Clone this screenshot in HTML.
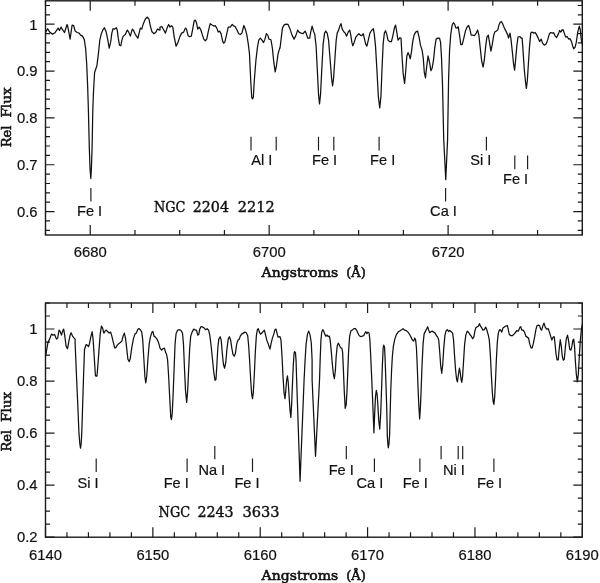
<!DOCTYPE html>
<html><head><meta charset="utf-8"><title>Spectra</title>
<style>html,body{margin:0;padding:0;background:#fff;overflow:hidden}svg{display:block}.s{font-family:"Liberation Sans",sans-serif;font-size:14.8px;fill:#111;stroke:#111;stroke-width:.2px}.l{font-size:14.6px}.r{font-family:"DejaVu Serif","Liberation Serif",serif;fill:#111}</style></head><body>
<svg width="600" height="583" viewBox="0 0 600 583">
<rect width="600" height="583" fill="#fff"/>
<path d="M45.5 235v-5M45.5 0.8v5M90.23 235v-10M90.23 0.8v10M134.97 235v-5M134.97 0.8v5M179.7 235v-5M179.7 0.8v5M224.43 235v-5M224.43 0.8v5M269.17 235v-10M269.17 0.8v10M313.9 235v-5M313.9 0.8v5M358.63 235v-5M358.63 0.8v5M403.37 235v-5M403.37 0.8v5M448.1 235v-10M448.1 0.8v10M492.83 235v-5M492.83 0.8v5M537.57 235v-5M537.57 0.8v5M582.3 235v-5M582.3 0.8v5M45.5 230.32h4.5M582.3 230.32h-4.5M45.5 220.95h4.5M582.3 220.95h-4.5M45.5 211.58h9M582.3 211.58h-9M45.5 202.21h4.5M582.3 202.21h-4.5M45.5 192.84h4.5M582.3 192.84h-4.5M45.5 183.48h4.5M582.3 183.48h-4.5M45.5 174.11h4.5M582.3 174.11h-4.5M45.5 164.74h9M582.3 164.74h-9M45.5 155.37h4.5M582.3 155.37h-4.5M45.5 146h4.5M582.3 146h-4.5M45.5 136.64h4.5M582.3 136.64h-4.5M45.5 127.27h4.5M582.3 127.27h-4.5M45.5 117.9h9M582.3 117.9h-9M45.5 108.53h4.5M582.3 108.53h-4.5M45.5 99.16h4.5M582.3 99.16h-4.5M45.5 89.8h4.5M582.3 89.8h-4.5M45.5 80.43h4.5M582.3 80.43h-4.5M45.5 71.06h9M582.3 71.06h-9M45.5 61.69h4.5M582.3 61.69h-4.5M45.5 52.32h4.5M582.3 52.32h-4.5M45.5 42.96h4.5M582.3 42.96h-4.5M45.5 33.59h4.5M582.3 33.59h-4.5M45.5 24.22h9M582.3 24.22h-9M45.5 14.85h4.5M582.3 14.85h-4.5M45.5 5.48h4.5M582.3 5.48h-4.5" stroke="#1a1a1a" stroke-width="1.2" fill="none"/>
<rect x="45.5" y="0.8" width="536.8" height="234.2" fill="none" stroke="#1a1a1a" stroke-width="1.4"/>
<text class="s" x="37.6" y="29.52" text-anchor="end">1</text>
<text class="s" x="37.6" y="76.36" text-anchor="end">0.9</text>
<text class="s" x="37.6" y="123.2" text-anchor="end">0.8</text>
<text class="s" x="37.6" y="170.04" text-anchor="end">0.7</text>
<text class="s" x="37.6" y="216.88" text-anchor="end">0.6</text>
<text class="s" x="90.23" y="257.4" text-anchor="middle">6680</text>
<text class="s" x="269.17" y="257.4" text-anchor="middle">6700</text>
<text class="s" x="448.1" y="257.4" text-anchor="middle">6720</text>
<path d="M45.5 537.2v-10M45.5 303v10M66.97 537.2v-5M66.97 303v5M88.44 537.2v-5M88.44 303v5M109.92 537.2v-5M109.92 303v5M131.39 537.2v-5M131.39 303v5M152.86 537.2v-10M152.86 303v10M174.33 537.2v-5M174.33 303v5M195.8 537.2v-5M195.8 303v5M217.28 537.2v-5M217.28 303v5M238.75 537.2v-5M238.75 303v5M260.22 537.2v-10M260.22 303v10M281.69 537.2v-5M281.69 303v5M303.16 537.2v-5M303.16 303v5M324.64 537.2v-5M324.64 303v5M346.11 537.2v-5M346.11 303v5M367.58 537.2v-10M367.58 303v10M389.05 537.2v-5M389.05 303v5M410.52 537.2v-5M410.52 303v5M432 537.2v-5M432 303v5M453.47 537.2v-5M453.47 303v5M474.94 537.2v-10M474.94 303v10M496.41 537.2v-5M496.41 303v5M517.88 537.2v-5M517.88 303v5M539.36 537.2v-5M539.36 303v5M560.83 537.2v-5M560.83 303v5M582.3 537.2v-10M582.3 303v10M45.5 537.2h9M582.3 537.2h-9M45.5 524.19h4.5M582.3 524.19h-4.5M45.5 511.18h4.5M582.3 511.18h-4.5M45.5 498.17h4.5M582.3 498.17h-4.5M45.5 485.16h9M582.3 485.16h-9M45.5 472.14h4.5M582.3 472.14h-4.5M45.5 459.13h4.5M582.3 459.13h-4.5M45.5 446.12h4.5M582.3 446.12h-4.5M45.5 433.11h9M582.3 433.11h-9M45.5 420.1h4.5M582.3 420.1h-4.5M45.5 407.09h4.5M582.3 407.09h-4.5M45.5 394.08h4.5M582.3 394.08h-4.5M45.5 381.07h9M582.3 381.07h-9M45.5 368.06h4.5M582.3 368.06h-4.5M45.5 355.04h4.5M582.3 355.04h-4.5M45.5 342.03h4.5M582.3 342.03h-4.5M45.5 329.02h9M582.3 329.02h-9M45.5 316.01h4.5M582.3 316.01h-4.5M45.5 303h4.5M582.3 303h-4.5" stroke="#1a1a1a" stroke-width="1.2" fill="none"/>
<rect x="45.5" y="303" width="536.8" height="234.2" fill="none" stroke="#1a1a1a" stroke-width="1.4"/>
<text class="s" x="37.6" y="334.32" text-anchor="end">1</text>
<text class="s" x="37.6" y="386.37" text-anchor="end">0.8</text>
<text class="s" x="37.6" y="438.41" text-anchor="end">0.6</text>
<text class="s" x="37.6" y="490.46" text-anchor="end">0.4</text>
<text class="s" x="37.6" y="541.5" text-anchor="end">0.2</text>
<text class="s" x="45.5" y="559.5" text-anchor="middle">6140</text>
<text class="s" x="152.86" y="559.5" text-anchor="middle">6150</text>
<text class="s" x="260.22" y="559.5" text-anchor="middle">6160</text>
<text class="s" x="367.58" y="559.5" text-anchor="middle">6170</text>
<text class="s" x="474.94" y="559.5" text-anchor="middle">6180</text>
<text class="s" x="582.3" y="559.5" text-anchor="middle">6190</text>
<polyline points="45.62,32.11 47.63,28.7 49.63,32.11 52.44,34.12 55.05,32.71 57.06,29.7 58.06,28.1 59.47,30.5 61.07,27.09 62.48,29.7 64.48,32.51 67.09,24.48 68.1,28.1 70.1,39.13 72.11,25.09 73.71,25.69 75.12,31.11 77.13,32.51 79.13,33.11 80.54,35.12 82.54,36.12 84.3,39.6 85.7,49.2 86.7,64.3 87.6,84.9 88.4,110 89.3,147.5 90,168 90.8,178.5 91.4,168 92.1,147.5 92.8,110 93.5,91.7 94.6,72.5 96.9,65.7 98.3,54.7 99.8,40.14 101.21,34.12 102.81,30.1 104.42,27.69 106.23,32.11 107.83,40.14 109.24,48.16 110.64,42.14 111.84,33.11 113.05,28.7 114.65,29.1 116.26,27.69 117.26,30.1 118.27,38.13 119.47,45.15 120.87,45.76 121.88,40.14 123.28,36.12 125.29,34.52 127.3,30.1 128.7,32.11 130.31,36.12 132.31,29.1 133.32,30.1 135.32,34.52 137.93,38.13 139.34,32.11 140.34,28.1 141.75,29.1 143.35,23.68 145.36,19.06 147.37,17.06 148.97,19.06 150.38,26.09 151.98,31.71 153.99,33.71 155.99,32.11 157.4,29.1 160.01,30.1 160,27.09 162.01,26.69 163.61,29.7 165.42,33.11 167.02,28.1 168.63,24.48 170.03,27.09 171.44,25.69 172.84,27.09 174.05,36.12 176.05,46.16 178.06,42.14 180.07,36.12 181.67,33.11 183.68,32.11 185.49,28.1 186.49,29.1 188.1,35.72 189.7,36.72 191.31,36.12 192.51,30.1 194.12,21.07 195.32,20.07 196.52,23.08 197.73,29.1 199.13,27.09 200.74,29.7 202.14,34.12 203.75,39.13 205.35,40.74 206.76,39.13 208.16,32.11 210.17,23.68 212.18,25.09 213.78,26.09 215.19,25.69 216.79,28.1 218.2,32.11 219.6,31.11 221.21,34.12 222.61,41.14 223.62,43.15 224.82,42.14 226.23,36.12 228.23,27.09 230.24,27.09 232.25,24.48 233.85,26.09 235.26,26.69 236.86,29.7 238.67,33.71 240.27,34.52 241.88,33.11 243.89,25.49 245.29,29.1 246.9,35.12 248.3,44.15 249.5,54.18 250.71,80.27 251.71,97.33 252.51,98.94 253.32,97.33 254.32,80.27 255.93,60.2 257.33,48.16 258.74,40.14 260.34,38.13 261.95,40.14 263.55,42.54 264.96,39.13 266.36,33.71 267.77,35.12 268.97,39.13 270.98,39.74 272.38,48.16 273.79,62.21 275.19,71.84 276.4,66.23 278,54.18 280.01,47.16 280,48.16 281,40.14 282.41,28.1 284.01,25.09 286.02,24.08 288.03,24.48 290.03,29.1 292.04,35.12 294.05,39.13 295.65,36.12 297.66,30.1 299.06,32.11 301.07,33.11 303.08,33.71 305.09,31.11 306.49,34.12 307.69,38.13 309.7,38.13 310.7,32.11 312.11,26.09 313.51,31.11 314.72,34.12 316.12,46.16 317.33,70.24 318.53,94.32 319.53,103.95 320.54,94.32 321.74,70.24 323.15,44.15 324.55,33.11 325.76,31.11 327.16,33.11 328.57,40.14 330.17,60.2 331.58,78.27 332.58,85.89 333.58,78.27 334.79,60.2 336.19,40.14 337.19,33.11 338.6,30.1 339.8,26.09 341.01,23.68 342.21,29.1 343.82,31.71 345.22,33.11 346.63,36.12 348.23,32.11 349.64,30.1 350.64,34.12 351.84,42.14 352.85,45.76 354.25,42.14 355.86,37.13 357.46,35.12 358.87,33.71 360.27,35.12 361.88,35.72 363.28,33.71 364.29,38.13 365.69,44.15 366.9,46.16 368.3,40.14 369.91,33.11 371.51,30.5 373.32,28.7 374.32,34.12 375.52,46.16 376.93,70.24 378.33,96.33 379.74,107.97 380.94,96.33 381.95,70.24 383.15,44.15 384.35,33.11 385.56,30.7 386.76,34.12 387.97,40.14 389.77,41.74 391.38,41.74 392.78,36.12 394.39,28.1 395.59,25.09 396.8,32.11 398,40.14 400.01,37.73 400,37.73 401,38.13 402.01,56.19 403.21,74.25 404.62,83.28 405.62,72.25 406.82,56.19 408.03,52.58 409.23,55.19 410.23,58.8 411.44,52.18 412.64,42.14 414.05,35.12 415.65,32.11 417.66,31.11 419.06,37.13 420.47,45.15 422.08,50.17 423.28,58.2 424.28,72.25 425.49,77.86 426.49,68.23 428.1,55.79 429.5,62.21 430.91,70.64 432.11,68.23 433.51,60.2 434.72,48.16 436.12,39.13 437.73,38.13 439.53,38.13 440.54,42.14 441.54,58.2 442.54,86.29 443.75,140.2 445.76,179.74 447.56,140.2 448.57,80.27 449.57,50.17 450.77,34.12 452.18,25.09 453.38,22.68 454.59,24.08 455.79,27.69 457.19,28.1 458.2,26.69 459.4,34.12 460.81,44.55 462.21,44.55 463.82,38.13 465.42,31.11 467.23,26.69 468.63,25.49 469.84,29.1 471.24,35.12 472.85,35.12 474.65,35.52 476.26,33.11 477.66,30.1 478.87,35.12 480.27,48.16 481.68,61.21 483.08,67.23 484.29,60.2 485.69,46.16 486.9,37.13 488.3,35.12 489.5,42.14 490.91,51.17 492.31,44.15 493.72,35.12 494.92,31.71 496.33,31.11 497.73,30.1 498.94,25.09 500.34,22.08 501.55,21.67 502.75,24.08 504.35,28.1 505.96,31.11 507.77,35.12 508.57,38.13 509.97,33.11 510.98,39.13 512.38,52.18 513.59,64.22 514.59,70.24 515.59,60.2 516.8,46.16 518,37.13 520.01,36.52 521.14,38.13 522.14,38.13 523.15,52.18 524.35,70.24 525.55,82.28 526.36,88.3 527.36,80.27 528.36,64.22 529.57,46.16 530.77,33.11 532.18,32.11 533.78,33.11 535.19,32.51 536.79,35.12 538.2,38.13 539.6,41.54 541.21,39.13 542.61,43.15 544.22,45.15 546.23,43.75 547.63,40.14 549.24,34.12 550.64,32.51 552.25,33.11 553.65,32.71 555.26,36.12 556.66,37.53 558.27,34.12 559.67,30.5 560.87,32.11 561.88,30.1 563.08,29.7 564.29,33.11 565.69,37.13 567.3,36.72 568.7,39.13 569.91,38.53 571.31,41.14 572.72,46.16 573.72,48.77 575.12,47.16 576.33,42.14 577.73,32.11 579.34,26.09 580.34,30.1 581.34,40.14 582.35,44.15" fill="none" stroke="#111" stroke-width="1.25" stroke-linejoin="round" stroke-linecap="round"/>
<polyline points="45.62,356.19 46.62,350.17 48.03,342.14 49.63,339.13 51.44,334.12 53.04,335.12 54.65,334.52 56.46,339.13 57.66,338.13 59.06,330.1 60.07,331.11 61.47,335.12 62.68,331.11 63.68,329.1 64.68,335.12 66.09,346.16 67.49,348.77 68.7,342.14 70.1,335.12 71.11,332.71 72.51,336.12 74.12,338.13 75.12,339.13 75.1,342.8 76.7,380.7 78,410 78.9,431.9 79.8,443.5 80.5,448.2 81.2,443.5 81.8,431.9 82.5,410 83.4,380.7 84.5,349.5 86.16,344.55 87.16,345.15 88.57,346.56 89.57,343.15 90.77,337.13 92.18,331.71 93.18,340.14 94.18,356.19 95.39,375.26 96.19,376.26 96.99,375.86 97.8,366.23 99,350.17 100.2,334.12 101.41,326.09 102.61,328.1 103.82,333.11 105.02,331.11 106.23,330.1 107.83,331.71 109.24,333.11 110.64,332.11 111.84,336.12 113.25,342.14 114.65,347.76 115.86,347.76 117.26,345.15 118.67,343.75 120.27,342.54 121.88,341.14 123.08,336.12 124.29,333.11 125.49,338.13 126.69,348.16 127.9,359.2 129.3,361.61 130.31,358.2 131.71,348.16 133.32,339.13 134.92,334.12 136.33,333.11 137.73,329.5 138.94,328.5 140.34,329.7 141.75,332.11 142.75,340.14 143.95,360.2 144.96,377.26 145.76,382.88 146.76,376.26 147.97,358.2 149.17,344.15 150.38,337.13 151.98,332.11 152.98,331.51 153.99,336.12 155.39,337.13 157,339.13 158.4,342.14 160.01,348.16 160,348.16 161.61,350.17 163.01,348.77 164.42,348.16 165.62,352.58 166.62,354.59 167.63,360.2 168.63,376.26 169.63,396.33 170.74,417 171.44,419.61 172.24,413.39 173.04,396.33 174.05,370.24 175.05,344.15 176.05,333.71 177.66,330.1 179.47,329.7 181.07,330.5 182.48,333.11 183.48,344.15 184.48,368.23 185.49,390.31 186.69,402.35 187.69,390.31 188.7,368.23 189.7,348.16 190.7,336.12 192.11,332.11 193.71,329.1 195.12,330.1 196.52,330.1 197.73,335.12 198.73,334.52 199.74,329.1 201.14,326.49 202.75,327.09 204.15,328.1 205.76,329.7 207.16,328.7 208.57,330.1 209.77,335.12 211.17,346.16 212.58,360.2 213.78,372.25 214.99,380.27 215.99,379.27 216.79,366.23 217.8,348.16 218.8,339.13 220.2,336.72 221.21,340.14 222.21,352.18 223.42,364.22 224.62,368.23 225.82,362.21 226.83,350.17 228.23,339.13 229.44,336.72 230.64,340.14 231.84,348.16 233.05,354.59 234.25,356.19 235.46,353.18 236.66,344.15 237.86,340.14 239.27,339.13 240.27,336.12 241.68,334.12 243.28,333.11 244.89,332.11 246.29,332.71 247.7,335.72 248.7,346.16 249.7,362.21 250.71,380.27 251.71,394.32 252.51,398.74 253.32,392.31 254.32,374.25 255.32,352.18 256.33,336.12 257.33,329.7 258.33,328.7 259.34,332.11 260.54,334.12 261.95,333.11 263.35,331.11 264.35,330.1 265.36,334.12 266.76,340.14 267.97,343.15 268.97,346.16 269.97,349.17 271.18,343.15 272.38,338.13 273.79,334.12 274.99,329.7 275.99,329.1 277,333.11 278,337.13 280.01,336.72 280,336.72 281,340.14 282.01,356.19 283.01,376.26 284.01,392.31 285.02,398.74 285.82,390.31 286.62,380.27 287.43,375.86 288.23,382.28 289.23,398.33 290.03,410.38 290.84,417.4 291.64,404.35 292.44,384.29 293.25,366.23 294.05,353.18 294.65,351.58 295.45,352.58 296.05,360.2 296.66,380.27 296.66,380 300.07,481.34 304.08,380 305.09,360.2 306.09,344.15 307.49,334.12 308.7,331.11 310.1,335.12 311.31,343.15 312.11,360.2 312.11,380 315.52,456.26 319.53,380 320.14,360.2 320.94,340.14 321.74,332.11 322.75,329.7 323.75,331.11 324.75,334.12 325.76,336.12 327.16,335.12 328.16,336.52 329.37,336.12 330.17,340.14 331.17,350.17 332.18,362.21 333.38,374.25 334.38,378.67 335.39,370.24 336.19,356.19 337.19,346.16 338.2,343.15 339.4,345.15 340.61,347.76 341.81,348.16 342.61,352.18 343.42,370.24 344.22,390.31 345.22,408.37 346.23,404.35 347.03,390.31 347.83,370.24 348.63,350.17 349.64,336.12 350.84,331.11 352.25,330.1 353.85,328.7 355.26,328.5 356.66,330.1 357.86,333.11 359.27,335.72 360.67,336.52 362.28,336.12 363.68,335.72 364.89,333.11 365.89,331.71 366.9,333.71 367.9,332.11 369.1,333.11 369.91,340.14 370.71,356.19 371.51,374.25 372.31,392.31 373.12,412.38 373.92,432.85 374.72,412.38 375.52,396.33 376.33,390.31 377.13,394.32 377.93,406.36 378.74,420.41 379.74,429.04 380.74,412.38 381.55,390.31 382.35,366.23 383.15,348.16 383.75,345.15 384.56,347.16 385.16,360.2 385.96,384.29 386.76,408.37 387.3,435.66 387.91,444.49 388.31,447.8 388.91,444.49 389.59,435 390.07,417 390.78,390.31 391.58,370.24 392.38,356.19 393.39,346.16 394.79,339.13 396.4,334.52 398.4,331.71 400.01,330.7 400,330.7 401.61,329.7 403.01,328.7 404.62,330.1 406.42,330.7 408.03,332.11 409.63,334.52 411.04,337.13 412.44,340.14 413.65,341.14 414.65,338.13 415.65,340.14 416.46,348.16 417.26,366.23 418.06,388.3 418.86,406.36 419.67,419 420.47,406.36 421.27,386.29 422.08,364.22 423.08,344.15 424.08,334.12 425.49,331.11 426.69,328.7 427.69,326.69 428.7,330.1 429.7,332.71 430.91,331.71 432.11,331.11 433.71,332.11 435.12,333.11 436.52,335.72 437.73,337.13 438.73,340.14 439.74,352.18 440.74,366.23 441.74,373.25 442.75,364.22 443.75,348.16 444.95,335.12 446.16,330.7 447.36,329.7 448.57,331.51 449.77,330.5 451.17,331.71 452.58,333.11 453.58,340.14 454.59,356.19 455.59,370.24 456.59,379.27 457.4,381.88 458.2,376.26 459.4,368.23 460.2,372.25 461.01,379.27 461.81,382.28 462.61,376.26 463.62,360.2 464.62,344.15 465.82,335.12 467.23,331.11 468.63,332.51 469.84,334.52 471.24,336.12 472.65,338.73 473.85,337.13 474.85,331.11 475.86,327.69 477.26,326.69 478.47,326.09 479.47,323.68 480.67,326.49 481.88,328.1 482.88,330.1 484.29,329.7 485.69,327.09 486.9,330.1 488.3,335.12 489.3,340.14 490.31,354.18 491.31,374.25 492.31,392.31 493.12,401.34 493.92,404.35 494.72,396.33 495.52,380.27 496.33,360.2 497.33,342.14 498.33,333.11 499.54,329.7 500.74,330.1 501.75,332.11 502.95,328.1 504.35,327.09 505.76,326.09 507.37,325.49 508.37,330.1 509.37,334.52 510.78,335.72 512.38,335.72 513.99,334.12 515.39,332.51 517,330.5 518.4,331.11 520.01,327.09 520.74,326.69 521.74,330.1 523.15,330.1 524.55,332.11 525.76,336.12 527.16,337.13 528.57,338.13 529.77,344.15 531.17,348.16 532.18,347.76 533.38,343.15 534.59,337.13 535.79,330.1 536.99,325.69 538.2,325.09 539.6,325.69 540.61,329.1 541.61,330.1 542.81,326.09 544.02,323.08 545.22,327.09 546.63,329.1 548.23,328.7 549.44,332.11 550.64,336.12 551.84,340.14 553.05,337.13 554.25,336.72 555.06,344.15 556.06,354.18 557.06,359.8 558.27,359.8 559.07,350.17 560.27,339.74 561.28,346.16 562.28,356.19 563.28,360.2 564.29,359.2 565.29,348.16 566.29,339.13 567.5,335.12 568.5,340.14 569.7,349.17 570.91,350.17 571.91,346.16 572.92,340.14 573.72,339.13 574.52,346.16 575.32,360.2 576.33,374.25 577.33,381.88 578.33,374.25 579.34,356.19 580.34,340.14 581.34,330.1 582.35,324.08" fill="none" stroke="#111" stroke-width="1.25" stroke-linejoin="round" stroke-linecap="round"/>
<path d="M90.9 188V201.5M251 136.8V150.6M276.2 136.8V150.6M318.5 136.8V150.6M333.8 136.8V150.6M379.1 136.8V150.6M445.6 188V201.5M486.4 136.8V150.6M514.8 155.4V169.2M527.6 155.4V169.2M96.2 458.6V472.1M187.1 458.6V472.1M214.8 445.9V459.3M252.5 458.6V472.1M346.3 445.9V459.3M374.4 458.6V472.1M419.9 458.6V472.1M441.1 445.9V459.3M458.2 445.9V459.3M462.7 445.9V459.3M493.9 458.6V472.1" stroke="#1a1a1a" stroke-width="1.15" fill="none"/>
<text class="s l" x="77" y="215.9">Fe I</text>
<text class="s l" x="251.3" y="165.2">Al I</text>
<text class="s l" x="312" y="165.2">Fe I</text>
<text class="s l" x="370.1" y="165.2">Fe I</text>
<text class="s l" x="430.1" y="216.1">Ca I</text>
<text class="s l" x="470.2" y="165.3">Si I</text>
<text class="s l" x="503" y="184.4">Fe I</text>
<text class="s l" x="77.6" y="487.8">Si I</text>
<text class="s l" x="163.7" y="487.8">Fe I</text>
<text class="s l" x="198.4" y="475.1">Na I</text>
<text class="s l" x="234.4" y="487.8">Fe I</text>
<text class="s l" x="328.7" y="475.1">Fe I</text>
<text class="s l" x="356.5" y="487.8">Ca I</text>
<text class="s l" x="402.7" y="487.8">Fe I</text>
<text class="s l" x="442.9" y="475.1">Ni I</text>
<text class="s l" x="477" y="487.8">Fe I</text>
<text class="r" x="153.9" y="211.9" font-size="14.2" textLength="31.5" lengthAdjust="spacingAndGlyphs" stroke="#111" stroke-width="0.4">NGC</text>
<text class="r" x="192.7" y="211.9" font-size="14.2" textLength="36.3" lengthAdjust="spacingAndGlyphs" stroke="#111" stroke-width="0.4">2204</text>
<text class="r" x="237.8" y="211.9" font-size="14.2" textLength="37.1" lengthAdjust="spacingAndGlyphs" stroke="#111" stroke-width="0.4">2212</text>
<text class="r" x="158.6" y="516.8" font-size="14.2" textLength="31.5" lengthAdjust="spacingAndGlyphs" stroke="#111" stroke-width="0.4">NGC</text>
<text class="r" x="197.4" y="516.8" font-size="14.2" textLength="36.3" lengthAdjust="spacingAndGlyphs" stroke="#111" stroke-width="0.4">2243</text>
<text class="r" x="242.5" y="516.8" font-size="14.2" textLength="37.1" lengthAdjust="spacingAndGlyphs" stroke="#111" stroke-width="0.4">3633</text>
<text class="r" x="261.6" y="277.4" font-size="12.9" textLength="76.6" lengthAdjust="spacingAndGlyphs" stroke="#111" stroke-width="0.55">Angstroms</text>
<text class="r" x="346.2" y="277.4" font-size="12.9" textLength="19.6" lengthAdjust="spacingAndGlyphs" stroke="#111" stroke-width="0.55">(Å)</text>
<text class="r" x="261.6" y="580.3" font-size="12.9" textLength="76.6" lengthAdjust="spacingAndGlyphs" stroke="#111" stroke-width="0.55">Angstroms</text>
<text class="r" x="346.2" y="580.3" font-size="12.9" textLength="19.6" lengthAdjust="spacingAndGlyphs" stroke="#111" stroke-width="0.55">(Å)</text>
<g transform="translate(10.6 147.2) rotate(-90)">
<text class="r" x="0" y="0" font-size="12.9" textLength="21.6" lengthAdjust="spacingAndGlyphs" stroke="#111" stroke-width="0.55">Rel</text>
<text class="r" x="29.6" y="0" font-size="12.9" textLength="30.2" lengthAdjust="spacingAndGlyphs" stroke="#111" stroke-width="0.55">Flux</text>
</g>
<g transform="translate(10.6 451.6) rotate(-90)">
<text class="r" x="0" y="0" font-size="12.9" textLength="21.6" lengthAdjust="spacingAndGlyphs" stroke="#111" stroke-width="0.55">Rel</text>
<text class="r" x="29.6" y="0" font-size="12.9" textLength="30.2" lengthAdjust="spacingAndGlyphs" stroke="#111" stroke-width="0.55">Flux</text>
</g>
</svg></body></html>
